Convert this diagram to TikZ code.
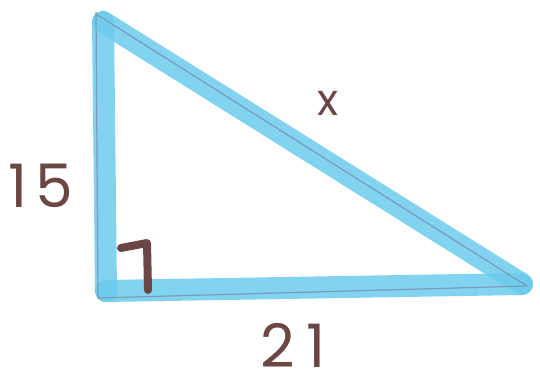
\documentclass[tikz,border=0pt]{standalone}
\usepackage{fontspec}
\setmainfont{Poppins}
\usepackage{tikz}
\definecolor{marker}{HTML}{6CCBEC}
\definecolor{pencil}{HTML}{7A9CB8}
\definecolor{ink}{HTML}{6A4746}

\begin{document}
\begin{tikzpicture}[x=1pt,y=-1pt,
  side/.style={marker,line width=22pt,line join=round,line cap=round,opacity=.85},
  guide/.style={pencil,line width=1.2pt},
  lbl/.style={ink,inner sep=0pt,font=\fontsize{60}{60}\selectfont},
  tick/.style={ink,line width=8pt,line cap=round,line join=round}]
  \useasboundingbox (0,0) rectangle (540,383);
  \coordinate (top) at (103,22);
  \coordinate (corner) at (106,291);
  \coordinate (tip) at (522,284);
  \draw[side] (top) -- (corner);
  \draw[side] (corner) -- (tip);
  \draw[side] (tip) -- (top);
  \draw[guide] (96,12) -- (98,298) -- (527,286) -- (96,14);
  \draw[tick] (121,248) -- (147,243) -- (148,290);
  \node[lbl] (leg) at (41,186) {1\hspace{8pt}5};
  \node[lbl] (base) at (293,345) {2\hspace{12pt}1};
  \node[lbl,font=\fontsize{44}{44}\selectfont] (hyp) at (328,103) {x};
\end{tikzpicture}
\end{document}
